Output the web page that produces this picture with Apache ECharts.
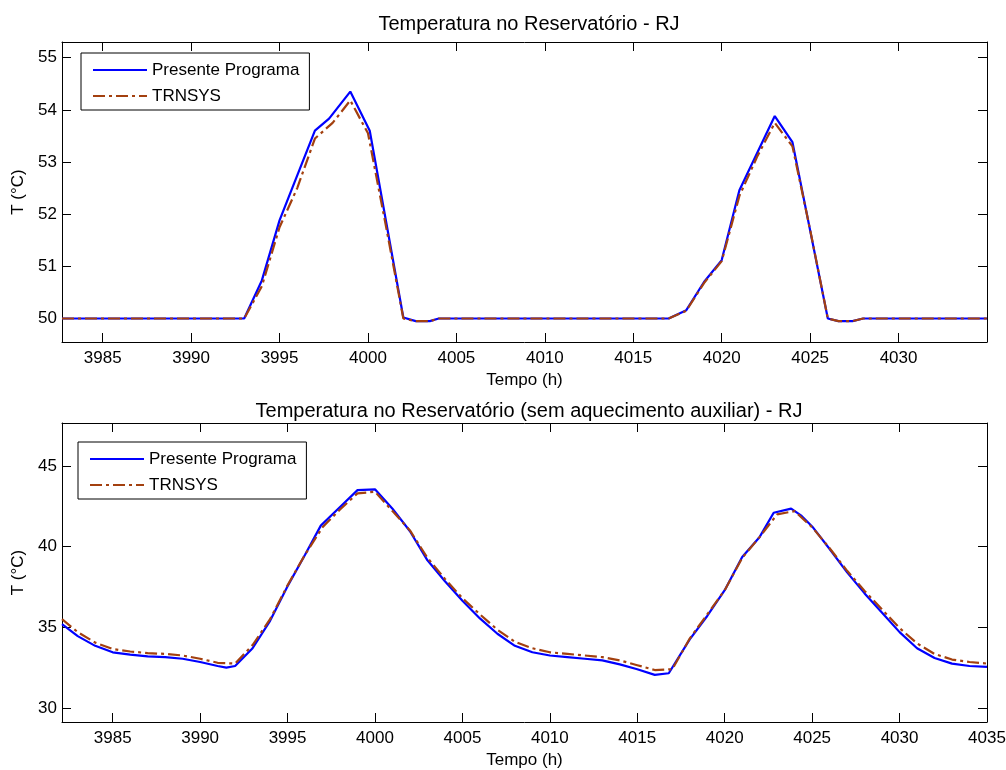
<!DOCTYPE html>
<html>
<head>
<meta charset="utf-8">
<title>Temperatura no Reservatório - RJ</title>
<script src="https://cdn.jsdelivr.net/npm/echarts@6/dist/echarts.min.js"></script>
<style>
  html, body { margin: 0; padding: 0; background: #fff; }
  #chart { width: 1006px; height: 770px; }
</style>
</head>
<body>
<div id="chart"></div>
<script>
// --- painel superior: com aquecimento auxiliar ---
const topProgHours = [3982.7, 3993, 3994, 3995, 3995.6, 3997, 3997.8, 3999, 4000.1, 4002, 4002.7, 4003.5, 4004,
    4017, 4018, 4019, 4020, 4021, 4023, 4024, 4026, 4026.6, 4027.4, 4028, 4035];
const topProgTemp = [50, 50, 50.73, 51.88, 52.4, 53.6, 53.83, 54.35, 53.6, 50.02, 49.95, 49.95, 50,
    50, 50.16, 50.7, 51.12, 52.46, 53.88, 53.38, 50.0, 49.95, 49.95, 50, 50];
const topTrnHours = [3982.7, 3993, 3994, 3995, 3996, 3997, 3998, 3999, 4000, 4001, 4002, 4002.7, 4003.5, 4004,
    4017, 4018, 4019, 4020, 4021, 4022, 4023, 4024, 4025, 4026, 4026.6, 4027.4, 4028, 4035];
const topTrnTemp = [50, 50, 50.62, 51.75, 52.5, 53.45, 53.75, 54.18, 53.55, 51.8, 50.0, 49.95, 49.95, 50,
    50, 50.15, 50.68, 51.1, 52.35, 53.1, 53.75, 53.3, 51.7, 50.0, 49.95, 49.95, 50, 50];
const topXTicks = [3985, 3990, 3995, 4000, 4005, 4010, 4015, 4020, 4025, 4030];
const topYTicks = [50, 51, 52, 53, 54, 55];

// --- painel inferior: sem aquecimento auxiliar ---
const botProgHours = [3982.1, 3983, 3984, 3985, 3986, 3987, 3988, 3989, 3990, 3991, 3991.5, 3992, 3993, 3994,
    3995, 3996, 3996.9, 3998, 3999, 4000, 4001, 4002, 4003, 4004, 4005, 4006, 4007, 4008, 4009, 4010, 4011,
    4012, 4013, 4014, 4015, 4016, 4016.8, 4018, 4019, 4020, 4021, 4022, 4022.8, 4023.8, 4024.4, 4025, 4026,
    4027, 4028, 4029, 4030, 4031, 4032, 4033, 4034, 4035];
const botProgTemp = [35.2, 34.45, 33.85, 33.45, 33.3, 33.2, 33.15, 33.05, 32.85, 32.6, 32.5, 32.6, 33.7, 35.4,
    37.55, 39.5, 41.3, 42.45, 43.5, 43.55, 42.35, 40.95, 39.15, 37.85, 36.65, 35.55, 34.6, 33.85, 33.45, 33.25, 33.15,
    33.05, 32.95, 32.7, 32.4, 32.05, 32.15, 34.25, 35.7, 37.3, 39.35, 40.6, 42.1, 42.35, 41.9, 41.25, 39.85,
    38.4, 37.1, 35.9, 34.7, 33.7, 33.1, 32.75, 32.6, 32.55];
const botTrnHours = [3982.1, 3983, 3984, 3985, 3986, 3987, 3988, 3989, 3990, 3991, 3992, 3993, 3994, 3995, 3996,
    3997, 3998, 3999, 4000, 4001, 4002, 4003, 4004, 4005, 4006, 4007, 4008, 4009, 4010, 4011, 4012, 4013, 4014,
    4015, 4016, 4017, 4018, 4019, 4020, 4021, 4022, 4023, 4024, 4025, 4026, 4027, 4028, 4029, 4030, 4031, 4032,
    4033, 4034, 4035];
const botTrnTemp = [35.5, 34.7, 34.05, 33.65, 33.5, 33.4, 33.35, 33.25, 33.05, 32.8, 32.75, 33.9, 35.5, 37.6, 39.5,
    41.2, 42.3, 43.3, 43.4, 42.2, 41.0, 39.3, 38.0, 36.8, 35.8, 34.85, 34.1, 33.7, 33.45, 33.35, 33.25, 33.15, 32.95,
    32.65, 32.35, 32.4, 34.3, 35.8, 37.3, 39.3, 40.6, 42.0, 42.2, 41.2, 39.9, 38.5, 37.25, 36.1, 34.95, 34.0, 33.35,
    33.0, 32.85, 32.75];
const botXTicks = [3985, 3990, 3995, 4000, 4005, 4010, 4015, 4020, 4025, 4030, 4035];
const botYTicks = [30, 35, 40, 45];

const font = 'Liberation Sans, Arial, sans-serif';
const ink = '#000';
const progColor = '#0000ff';
const trnColor = '#a3400f';

function pairs(xs, ys) {
    return xs.map((x, i) => [x, ys[i]]);
}

// eixo x: um embaixo com rótulos e um em cima só com marcas (caixa do MATLAB)
function xAxes(grid, min, max, ticks) {
    const base = {
        type: 'value', gridIndex: grid, min: min, max: max,
        splitLine: {show: false},
        axisLine: {show: true, onZero: false, lineStyle: {color: ink, width: 1}},
        axisTick: {show: true, inside: true, length: 9, customValues: ticks, lineStyle: {color: ink}},
    };
    return [
        Object.assign({}, base, {
            position: 'bottom',
            name: 'Tempo (h)', nameLocation: 'middle', nameGap: 30,
            nameTextStyle: {fontFamily: font, fontSize: 17, color: ink},
            axisLabel: {
                customValues: ticks, margin: 8, fontFamily: font, fontSize: 17, color: ink,
                formatter: v => String(v)
            }
        }),
        Object.assign({}, base, {position: 'top', axisLabel: {show: false}})
    ];
}

function yAxes(grid, min, max, ticks) {
    const base = {
        type: 'value', gridIndex: grid, min: min, max: max,
        splitLine: {show: false},
        axisLine: {show: true, onZero: false, lineStyle: {color: ink, width: 1}},
        axisTick: {show: true, inside: true, length: 9, customValues: ticks, lineStyle: {color: ink}},
    };
    return [
        Object.assign({}, base, {
            position: 'left',
            name: 'T (°C)', nameLocation: 'middle', nameGap: 34,
            nameTextStyle: {fontFamily: font, fontSize: 17, color: ink},
            axisLabel: {
                customValues: ticks, margin: 5, fontFamily: font, fontSize: 17, color: ink,
                formatter: v => String(v)
            }
        }),
        Object.assign({}, base, {position: 'right', axisLabel: {show: false}})
    ];
}

function legendBox(top, left) {
    return {
        orient: 'vertical', left: left, top: top,
        data: ['Presente Programa', 'TRNSYS'],
        itemWidth: 54, itemHeight: 14, itemGap: 6,
        padding: [7, 10, 4, 11],
        borderColor: ink, borderWidth: 1, borderRadius: 0,
        backgroundColor: '#fff',
        itemStyle: {opacity: 0},
        textStyle: {fontFamily: font, fontSize: 17, color: ink, lineHeight: 20},
        selectedMode: false
    };
}

const progLine = {color: progColor, width: 2.2, type: 'solid'};
const trnLine = {color: trnColor, width: 2.2, type: [12, 4, 3, 4]};

const chart = echarts.init(document.getElementById('chart'));
chart.setOption({
    animation: false,
    backgroundColor: '#fff',
    title: [
        {
            text: 'Temperatura no Reservatório - RJ', left: 524, top: 9, textAlign: 'center',
            textStyle: {fontFamily: font, fontSize: 20, fontWeight: 'normal', color: ink}
        },
        {
            text: 'Temperatura no Reservatório (sem aquecimento auxiliar) - RJ', left: 524, top: 396, textAlign: 'center',
            textStyle: {fontFamily: font, fontSize: 20, fontWeight: 'normal', color: ink}
        }
    ],
    legend: [legendBox(53, 81), legendBox(442, 78)],
    grid: [
        {left: 62, right: 19, top: 42, height: 300, outerBoundsMode: 'none'},
        {left: 62, right: 19, top: 423, height: 299, outerBoundsMode: 'none'}
    ],
    xAxis: xAxes(0, 3982.7, 4035, topXTicks).concat(xAxes(1, 3982.1, 4035, botXTicks)),
    yAxis: yAxes(0, 49.55, 55.3, topYTicks).concat(yAxes(1, 29.13, 47.66, botYTicks)),
    series: [
        {name: 'Presente Programa', type: 'line', xAxisIndex: 0, yAxisIndex: 0, symbol: 'none',
            lineStyle: progLine, itemStyle: {color: progColor}, data: pairs(topProgHours, topProgTemp)},
        {name: 'TRNSYS', type: 'line', xAxisIndex: 0, yAxisIndex: 0, symbol: 'none',
            lineStyle: trnLine, itemStyle: {color: trnColor}, data: pairs(topTrnHours, topTrnTemp)},
        {name: 'Presente Programa', type: 'line', xAxisIndex: 2, yAxisIndex: 2, symbol: 'none',
            lineStyle: progLine, itemStyle: {color: progColor}, data: pairs(botProgHours, botProgTemp)},
        {name: 'TRNSYS', type: 'line', xAxisIndex: 2, yAxisIndex: 2, symbol: 'none',
            lineStyle: trnLine, itemStyle: {color: trnColor}, data: pairs(botTrnHours, botTrnTemp)}
    ]
});
</script>
</body>
</html>
